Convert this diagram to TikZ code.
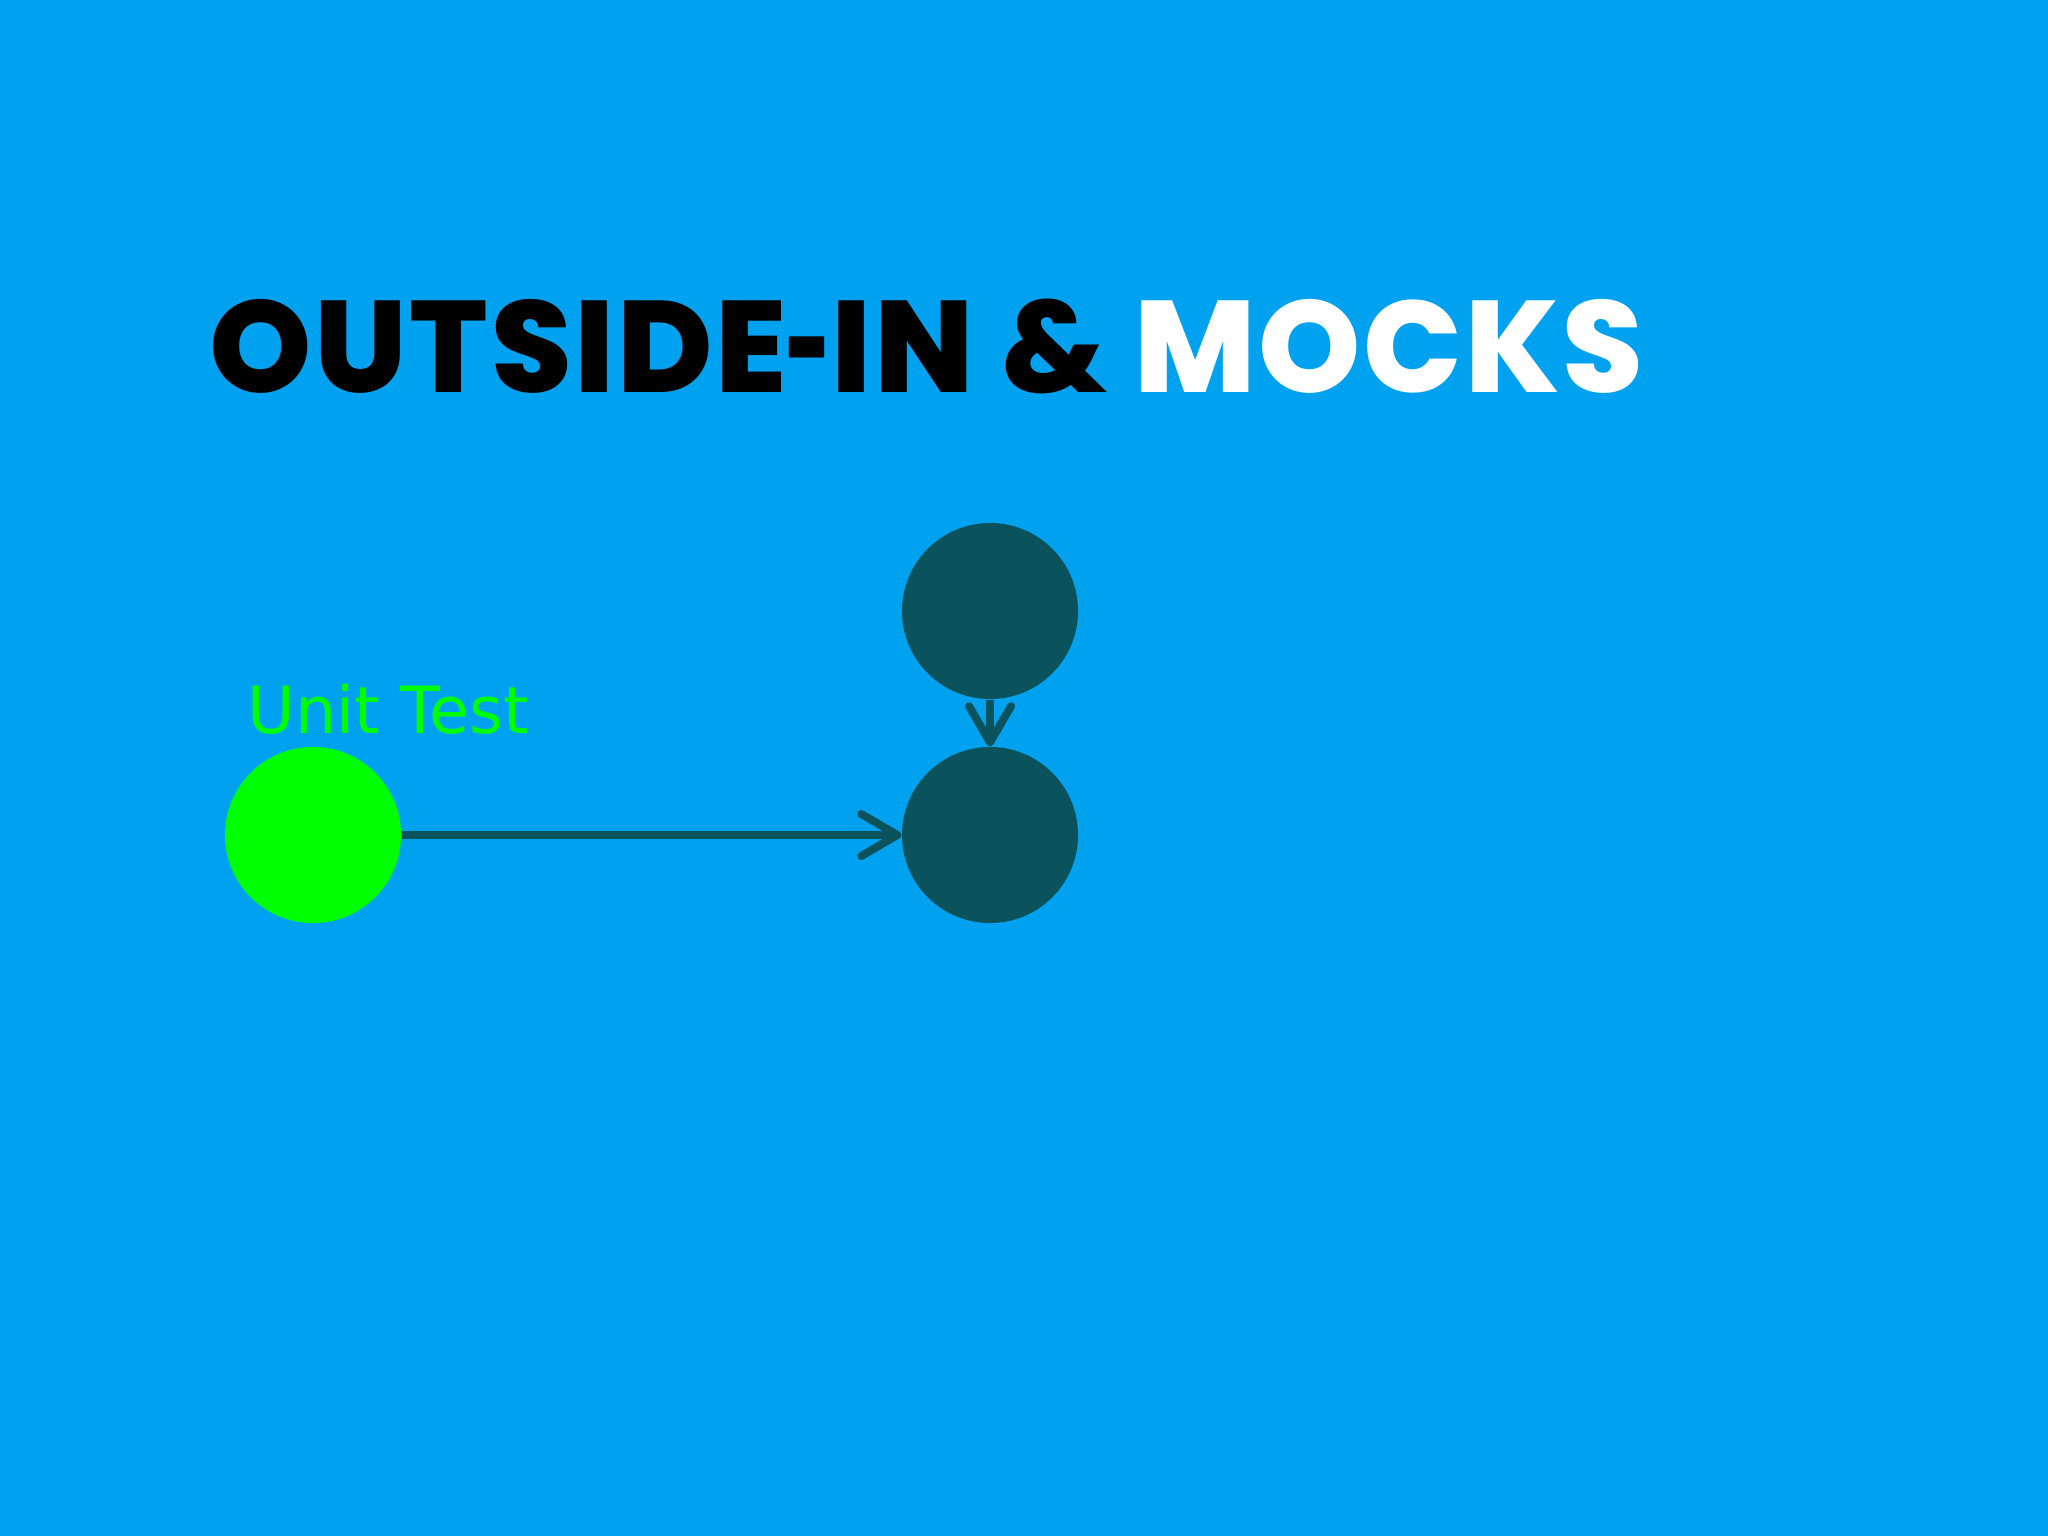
\documentclass[tikz,border=0pt]{standalone}
\usepackage{fontspec}
\usetikzlibrary{arrows.meta}
\newfontfamily\titlefont{Poppins}[UprightFont=* ExtraBold,LetterSpace=2]
\newfontfamily\labelfont{DejaVu Sans}
\definecolor{bgblue}{HTML}{00A2F0}
\definecolor{darkteal}{HTML}{0B535C}
\definecolor{brightgreen}{HTML}{00FF00}
\begin{document}
\begin{tikzpicture}[x=0.01cm,y=-0.01cm,
  ball/.style={circle,minimum size=1.76cm,inner sep=0pt,draw=none},
  link/.style={draw=darkteal,line width=0.08cm,-{Straight Barb[length=0.36cm,width=0.42cm,round]}}]
\fill[bgblue] (0,0) rectangle (2048,1536);
\useasboundingbox (0,0) rectangle (2048,1536);
\node[anchor=base west,inner sep=0pt,font=\titlefont\fontsize{37}{40}\selectfont] (title) at (209,392)
  {OUTSIDE\scalebox{0.6}[1]{-}IN \& \textcolor{white}{MOCKS}};
\node[ball,fill=brightgreen] (unit) at (313,835) {};
\node[ball,fill=darkteal] (top) at (990,611) {};
\node[ball,fill=darkteal] (main) at (990,835) {};
\node[anchor=base west,inner sep=0pt,text=brightgreen,font=\labelfont\fontsize{18.5}{20}\selectfont] (lbl) at (247,733) {Unit Test};
\draw[link] (unit.east) -- (main.west);
\draw[link] (top.south) -- (main.north);
\end{tikzpicture}
\end{document}
